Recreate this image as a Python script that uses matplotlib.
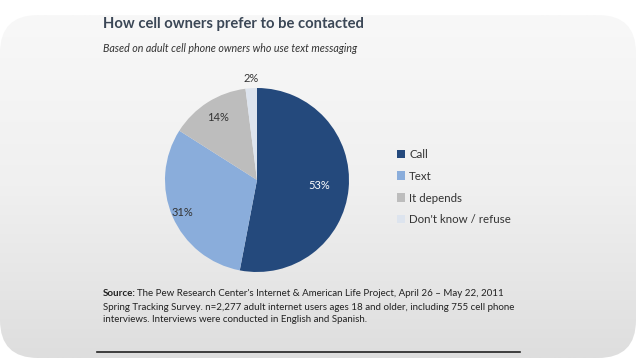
import numpy as np
import matplotlib
matplotlib.use('Agg')
import matplotlib.pyplot as plt
from matplotlib.patches import FancyBboxPatch

# data
categories = ['Call', 'Text', 'It depends', "Don't know / refuse"]
shares = [53, 31, 14, 2]
colors = ['#24497c', '#8aaddb', '#bdbdbd', '#dde4ee']
label_colors = ['white', '#333333', '#333333', '#333333']
label_dist = [0.68, 0.88, 0.8, 1.1]

title = 'How cell owners prefer to be contacted'
subtitle = 'Based on adult cell phone owners who use text messaging'
source_lines = [
    "The Pew Research Center's Internet & American Life Project, April 26 \u2013 May 22, 2011",
    'Spring Tracking Survey. n=2,277 adult internet users ages 18 and older, including 755 cell phone',
    'interviews. Interviews were conducted in English and Spanish.',
]

W, H = 636, 358
plt.rcParams['font.family'] = ['Lato', 'DejaVu Sans']
fig = plt.figure(figsize=(W / 100, H / 100), dpi=100)
fig.patch.set_facecolor('white')

# background panel with vertical gradient
bg = fig.add_axes([0, 0, 1, 1])
bg.set_xlim(0, W)
bg.set_ylim(H, 0)
bg.axis('off')
grad = np.linspace(0, 1, 256).reshape(-1, 1)
img = bg.imshow(grad, cmap=matplotlib.colors.LinearSegmentedColormap.from_list(
    'g', ['#f8f8f8', '#f0f0f0', '#dedede']), extent=[0, W, H, 15],
    aspect='auto', zorder=0)
panel = FancyBboxPatch((0, 15), W, H - 15, boxstyle='round,pad=0,rounding_size=38',
                       facecolor='none', edgecolor='none', transform=bg.transData)
bg.add_patch(panel)
img.set_clip_path(panel)

# titles
fig.text(103 / W, 1 - 24 / H, title, fontsize=10.6, fontweight='bold',
         color='#3b4756', va='center', ha='left')
fig.text(103 / W, 1 - 48 / H, subtitle, fontsize=7.7, style='italic',
         color='#333333', va='center', ha='left')

# pie
cx, cy, r = 257, 180, 92
ax = fig.add_axes([(cx - r) / W, (H - cy - r) / H, 2 * r / W, 2 * r / H])
wedges, _ = ax.pie(shares, colors=colors, startangle=90, counterclock=False,
                   radius=1, wedgeprops=dict(linewidth=0))
ax.set_xlim(-1, 1)
ax.set_ylim(-1, 1)
ax.set_aspect('equal')
ax.axis('off')
for w, v, d, c in zip(wedges, shares, label_dist, label_colors):
    ang = np.deg2rad((w.theta1 + w.theta2) / 2)
    ax.text(d * np.cos(ang), d * np.sin(ang), f'{v}%', ha='center', va='center',
            fontsize=8, color=c, clip_on=False)

# legend
leg = fig.legend(wedges, categories, loc='upper left',
                 bbox_to_anchor=(392 / W, 1 - 144 / H), frameon=False,
                 fontsize=8.3, handlelength=0.7, handleheight=0.7,
                 handletextpad=0.4, labelspacing=0.95, borderaxespad=0)
for t in leg.get_texts():
    t.set_color('#333333')

# source
fig.text(103 / W, 1 - 294 / H, 'Source:', fontsize=7, fontweight='bold',
         color='#222222', va='center', ha='left')
fig.text(137 / W, 1 - 294 / H, source_lines[0], fontsize=7, color='#222222',
         va='center', ha='left')
for i, line in enumerate(source_lines[1:]):
    fig.text(103 / W, 1 - (307 + 13 * i) / H, line, fontsize=7,
             color='#222222', va='center', ha='left')
bg.plot([97, 520], [352, 352], color='#222222', linewidth=1.2)

fig.savefig('out.png', dpi=100, facecolor='white')
